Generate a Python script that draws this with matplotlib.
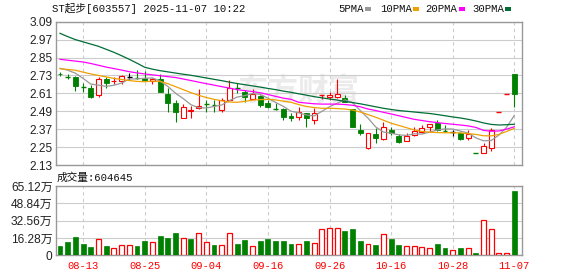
import matplotlib
matplotlib.use('Agg')
import matplotlib.pyplot as plt
from matplotlib.patches import Rectangle

# ---------------- data ----------------
dates = ['08-08', '08-11', '08-12', '08-13', '08-14', '08-15', '08-18', '08-19', '08-20', '08-21',
         '08-22', '08-25', '08-26', '08-27', '08-28', '08-29', '09-01', '09-02', '09-03', '09-04',
         '09-05', '09-08', '09-09', '09-10', '09-11', '09-12', '09-15', '09-16', '09-17', '09-18',
         '09-19', '09-22', '09-23', '09-24', '09-25', '09-26', '09-29', '09-30', '10-09', '10-10',
         '10-13', '10-14', '10-15', '10-16', '10-17', '10-20', '10-21', '10-22', '10-23', '10-24',
         '10-27', '10-28', '10-29', '10-30', '10-31', '11-03', '11-04', '11-05', '11-06', '11-07']

opens = [2.742, 2.722, 2.721, 2.656, 2.643, 2.601, 2.706, 2.692, 2.690, 2.721,
         2.713, 2.715, 2.690, 2.704, 2.605, 2.545, 2.442, 2.495, 2.509, 2.538,
         2.534, 2.498, 2.565, 2.647, 2.617, 2.570, 2.592, 2.547, 2.505, 2.503,
         2.460, 2.453, 2.476, 2.431, 2.597, 2.587, 2.587, 2.576, 2.503, 2.364,
         2.245, 2.337, 2.306, 2.364, 2.324, 2.290, 2.330, 2.349, 2.382, 2.413,
         2.361, 2.352, 2.346, 2.308, 2.209, 2.212, 2.245, 2.482, 2.604, 2.739]
highs = [2.755, 2.737, 2.728, 2.680, 2.666, 2.717, 2.721, 2.717, 2.730, 2.744,
         2.766, 2.761, 2.712, 2.737, 2.645, 2.565, 2.536, 2.525, 2.637, 2.565,
         2.565, 2.580, 2.700, 2.677, 2.632, 2.639, 2.600, 2.565, 2.543, 2.510,
         2.480, 2.516, 2.480, 2.514, 2.600, 2.621, 2.704, 2.599, 2.503, 2.404,
         2.342, 2.375, 2.420, 2.386, 2.335, 2.342, 2.386, 2.397, 2.404, 2.430,
         2.397, 2.364, 2.350, 2.364, 2.209, 2.275, 2.375, 2.483, 2.605, 2.739]
lows = [2.726, 2.704, 2.625, 2.620, 2.581, 2.587, 2.645, 2.672, 2.670, 2.700,
        2.704, 2.694, 2.672, 2.621, 2.487, 2.420, 2.442, 2.442, 2.503, 2.487,
        2.484, 2.487, 2.565, 2.610, 2.554, 2.570, 2.520, 2.509, 2.498, 2.431,
        2.426, 2.431, 2.382, 2.402, 2.570, 2.565, 2.580, 2.550, 2.382, 2.330,
        2.237, 2.279, 2.297, 2.330, 2.279, 2.290, 2.324, 2.342, 2.352, 2.357,
        2.352, 2.324, 2.300, 2.297, 2.208, 2.208, 2.226, 2.482, 2.604, 2.520]
closes = [2.738, 2.719, 2.661, 2.653, 2.587, 2.704, 2.681, 2.696, 2.726, 2.721,
          2.710, 2.699, 2.706, 2.621, 2.547, 2.483, 2.516, 2.501, 2.525, 2.535,
          2.531, 2.565, 2.645, 2.644, 2.587, 2.605, 2.532, 2.520, 2.502, 2.453,
          2.442, 2.483, 2.442, 2.476, 2.600, 2.599, 2.603, 2.550, 2.382, 2.342,
          2.342, 2.308, 2.382, 2.342, 2.286, 2.324, 2.359, 2.375, 2.404, 2.364,
          2.358, 2.352, 2.305, 2.337, 2.208, 2.257, 2.364, 2.483, 2.605, 2.603]

ma5 = [2.778, 2.765, 2.745, 2.710, 2.672, 2.665, 2.657, 2.664, 2.679, 2.706,
       2.707, 2.711, 2.713, 2.692, 2.657, 2.611, 2.575, 2.534, 2.514, 2.512,
       2.522, 2.532, 2.561, 2.585, 2.595, 2.609, 2.603, 2.578, 2.549, 2.523,
       2.490, 2.480, 2.465, 2.459, 2.489, 2.520, 2.544, 2.566, 2.547, 2.495,
       2.444, 2.385, 2.351, 2.343, 2.332, 2.328, 2.339, 2.337, 2.350, 2.365,
       2.372, 2.371, 2.357, 2.344, 2.312, 2.292, 2.294, 2.330, 2.383, 2.462]
ma10 = [2.775, 2.770, 2.765, 2.752, 2.740, 2.730, 2.720, 2.710, 2.703, 2.696,
        2.690, 2.688, 2.692, 2.690, 2.675, 2.655, 2.635, 2.615, 2.597, 2.582,
        2.570, 2.560, 2.552, 2.550, 2.556, 2.565, 2.568, 2.570, 2.566, 2.558,
        2.550, 2.535, 2.522, 2.515, 2.510, 2.510, 2.508, 2.505, 2.498, 2.485,
        2.468, 2.450, 2.430, 2.410, 2.395, 2.380, 2.365, 2.355, 2.350, 2.347,
        2.346, 2.346, 2.345, 2.340, 2.335, 2.326, 2.325, 2.335, 2.355, 2.375]
ma20 = [2.838, 2.832, 2.826, 2.820, 2.810, 2.798, 2.786, 2.776, 2.766, 2.755,
        2.747, 2.740, 2.734, 2.728, 2.722, 2.716, 2.706, 2.696, 2.685, 2.675,
        2.665, 2.655, 2.645, 2.635, 2.628, 2.622, 2.614, 2.602, 2.590, 2.578,
        2.570, 2.550, 2.545, 2.540, 2.538, 2.538, 2.538, 2.535, 2.530, 2.520,
        2.505, 2.495, 2.483, 2.472, 2.460, 2.448, 2.436, 2.428, 2.420, 2.414,
        2.408, 2.403, 2.398, 2.392, 2.382, 2.362, 2.356, 2.358, 2.370, 2.386]
ma30 = [3.012, 2.990, 2.970, 2.955, 2.940, 2.925, 2.905, 2.885, 2.862, 2.838,
        2.812, 2.785, 2.772, 2.762, 2.754, 2.746, 2.738, 2.731, 2.722, 2.713,
        2.704, 2.695, 2.685, 2.676, 2.668, 2.660, 2.652, 2.643, 2.635, 2.625,
        2.617, 2.607, 2.598, 2.588, 2.580, 2.572, 2.565, 2.556, 2.548, 2.540,
        2.530, 2.520, 2.510, 2.502, 2.495, 2.490, 2.485, 2.480, 2.475, 2.468,
        2.460, 2.452, 2.445, 2.436, 2.425, 2.412, 2.402, 2.398, 2.400, 2.403]

volume_wan = [8.8, 12.5, 17.2, 10.7, 7.8, 15.0, 8.5, 6.6, 9.4, 9.4,
              8.8, 13.5, 12.2, 18.2, 16.3, 21.0, 16.0, 15.3, 20.7, 12.5,
              9.7, 9.4, 20.7, 10.7, 14.4, 8.5, 13.5, 15.3, 13.5, 13.5,
              10.7, 10.3, 13.5, 11.3, 24.4, 25.4, 25.4, 22.9, 24.7, 13.5,
              10.3, 9.7, 19.7, 15.3, 9.7, 8.8, 8.8, 7.5, 6.9, 10.7,
              6.9, 4.7, 6.9, 6.9, 2.2, 32.9, 24.4, 1.9, 1.9, 60.46]
volume_up = [0, 0, 0, 0, 0, 1, 0, 1, 1, 1,
             0, 0, 1, 0, 0, 0, 1, 0, 1, 1,
             0, 1, 1, 0, 0, 1, 0, 0, 0, 0,
             0, 1, 0, 1, 1, 1, 1, 0, 0, 0,
             1, 0, 1, 0, 0, 1, 1, 1, 1, 0,
             0, 1, 0, 1, 0, 1, 1, 1, 1, 0]

price_ticks = [2.13, 2.25, 2.37, 2.49, 2.61, 2.73, 2.85, 2.97, 3.09]
vol_ticks = [0, 16.28, 32.56, 48.84, 65.12]
vol_tick_labels = ['0', '16.28万', '32.56万', '48.84万', '65.12万']
date_ticks = ['08-13', '08-25', '09-04', '09-16', '09-26', '10-16', '10-28', '11-07']

title_text = 'ST起步[603557] 2025-11-07 10:22'
vol_title = '成交量:604645'
ma_names = ['5PMA', '10PMA', '20PMA', '30PMA']

# ---------------- style ----------------
RED = '#ff0000'
GREEN = '#008000'
MA_COLORS = ['#999999', '#f0a000', '#ff00ff', '#006d36']
GRID = '#cccccc'
SPINE = '#999999'
W, H = 578, 276
MONO = ['Liberation Mono', 'Noto Sans CJK SC', 'DejaVu Sans']
SANS = ['Liberation Sans', 'Noto Sans CJK SC', 'DejaVu Sans']

fig = plt.figure(figsize=(W / 100, H / 100), dpi=100)


def fx(x):
    return x / W


def fy(y):
    return 1 - y / H


ax = fig.add_axes([fx(56), fy(165), fx(466), (165 - 21.7) / H])
axv = fig.add_axes([fx(56), fy(255.3), fx(466), (255.3 - 186) / H])

n = len(dates)
xs = list(range(n))
bw = 0.64
tick_idx = [dates.index(d) for d in date_ticks]

for a in (ax, axv):
    a.set_xlim(-0.52, n)
    for s in a.spines.values():
        s.set_color(SPINE)
        s.set_linewidth(1)
    for t in tick_idx:
        a.axvline(t, color=GRID, lw=0.8, ls=(0, (3, 3)), zorder=0)
    a.tick_params(length=0)
    a.set_facecolor('white')

# watermark
ax.text(fx(300) * 0 + 0.52, 0.52, '东方财富', transform=ax.transAxes, ha='center', va='center',
        fontsize=22, color='#ebebeb', family=['Noto Sans CJK SC'], fontweight='bold', zorder=0)

# price panel
ax.set_ylim(price_ticks[0], price_ticks[-1])
ax.set_yticks(price_ticks)
ax.set_yticklabels([f'{v:.2f}' for v in price_ticks], family=SANS, fontsize=8.6, color='#222222')
ax.tick_params(axis='y', pad=2.5)
ax.set_xticks([])
ax.grid(axis='y', color=GRID, lw=0.8, zorder=0)
ax.set_axisbelow(True)

for i in xs:
    o, h, l, c = opens[i], highs[i], lows[i], closes[i]
    if c > o:
        col = RED
    elif c < o:
        col = GREEN
    else:
        col = 'black'
    ax.vlines(i, l, h, color=col, lw=0.8, zorder=3)
    if abs(c - o) < 0.004:
        ax.hlines((o + c) / 2, i - bw / 2, i + bw / 2, color=col, lw=1.0, zorder=4)
    elif c > o:
        ax.add_patch(Rectangle((i - bw / 2, o), bw, c - o, facecolor='white',
                               edgecolor=col, lw=0.8, zorder=4))
    else:
        ax.add_patch(Rectangle((i - bw / 2, c), bw, o - c, facecolor=col,
                               edgecolor=col, lw=0.6, zorder=4))

for series, col in zip([ma5, ma10, ma20, ma30], MA_COLORS):
    ax.plot(xs, series, color=col, lw=0.9, zorder=5)

# volume panel
axv.set_ylim(0, vol_ticks[-1])
axv.set_yticks(vol_ticks)
axv.set_yticklabels(vol_tick_labels, family=SANS, fontsize=8.6, color='#222222')
axv.tick_params(axis='y', pad=2.5)
axv.grid(axis='y', color=GRID, lw=0.8, zorder=0)
axv.set_axisbelow(True)
axv.set_xticks(tick_idx)
axv.set_xticklabels(date_ticks, family=MONO, fontsize=7.6, color=RED)
axv.tick_params(axis='x', pad=4)

for i in xs:
    v = volume_wan[i]
    if volume_up[i]:
        axv.add_patch(Rectangle((i - bw / 2, 0), bw, v, facecolor='white',
                                edgecolor=RED, lw=0.9, zorder=3))
    else:
        axv.add_patch(Rectangle((i - bw / 2, 0), bw, v, facecolor=GREEN,
                                edgecolor=GREEN, lw=0.5, zorder=3))

# texts
fig.text(fx(52), fy(9), title_text, ha='left', va='center', family=MONO, fontsize=7.7, color='#111111')
fig.text(fx(57), fy(177.5), vol_title, ha='left', va='center', family=MONO, fontsize=7.7, color='#111111')

leg_x = [338.7, 380.3, 425.7, 472.0]
mark_x = [365.0, 413.0, 459.0, 505.0]
for name, lx, mx, col in zip(ma_names, leg_x, mark_x, MA_COLORS):
    fig.text(fx(lx), fy(9), name, ha='left', va='center', family=MONO, fontsize=7.7, color='#111111')
    fig.patches.append(Rectangle((fx(mx), fy(10.5)), fx(6), 3 / H, transform=fig.transFigure,
                                 facecolor=col, edgecolor='none', figure=fig))

fig.savefig('out.png', dpi=100, facecolor='white')
